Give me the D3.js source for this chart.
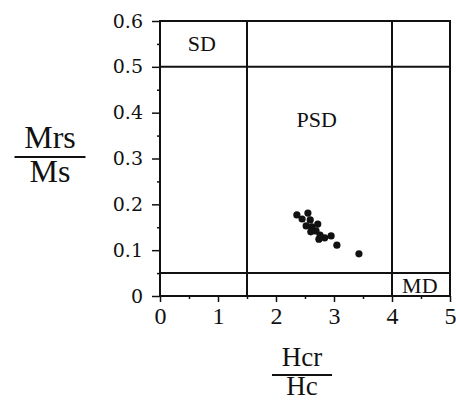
<!DOCTYPE html>
<html>
<head>
<meta charset="utf-8">
<script src="https://cdn.jsdelivr.net/npm/d3@7"></script>
<style>
  html, body { margin: 0; padding: 0; background: #fff; }
  svg { display: block; }
  text { fill: #111; }
</style>
</head>
<body>
<svg id="chart" width="456" height="404"></svg>
<script>
// Hysteresis ratios (Day plot): Hcr/Hc vs Mrs/Ms
const hcrHc = [2.36, 2.45, 2.55, 2.59, 2.52, 2.62, 2.72, 2.69, 2.76, 2.84, 2.95, 2.74, 3.05, 3.43, 2.60];
const mrsMs = [0.177, 0.168, 0.181, 0.166, 0.153, 0.151, 0.157, 0.142, 0.133, 0.127, 0.131, 0.124, 0.111, 0.092, 0.140];

const xTicks = [0, 1, 2, 3, 4, 5];
const yTicks = [0, 0.1, 0.2, 0.3, 0.4, 0.5, 0.6];
const yTickLabels = ["0", "0.1", "0.2", "0.3", "0.4", "0.5", "0.6"];

// Domain boundaries
const hcrBounds = [1.5, 4];
const mrsBounds = [0.05, 0.5];
const regions = [
  { name: "SD", x: 0.72, y: 0.552 },
  { name: "PSD", x: 2.7, y: 0.385 },
  { name: "MD", x: 4.48, y: 0.023 }
];

const SERIF = "'Liberation Serif', 'Times New Roman', serif";
const DIGITS = "'DejaVu Serif', serif";

const svg = d3.select("#chart");
const x = d3.scaleLinear().domain([0, 5]).range([160, 450]);
const y = d3.scaleLinear().domain([0, 0.6]).range([296, 21]);

// Axes with major and minor ticks
const xAxis = d3.axisBottom(x).tickValues(xTicks).tickFormat(d3.format("d")).tickSize(6).tickPadding(5);
const xMinor = d3.axisBottom(x).tickValues(d3.range(0.5, 5, 1)).tickFormat("").tickSize(3);
const yAxis = d3.axisLeft(y).tickValues(yTicks).tickFormat((d, i) => yTickLabels[i]).tickSize(8).tickPadding(9);
const yMinor = d3.axisLeft(y).tickValues(d3.range(0.05, 0.6, 0.1)).tickFormat("").tickSize(3);

function style(g, size, family) {
  g.attr("font-family", null).attr("font-size", null);
  g.select(".domain").remove();
  g.selectAll(".tick line").attr("stroke", "#111").attr("stroke-width", 1.5);
  g.selectAll(".tick text").attr("fill", "#111")
    .style("font-family", family).style("font-size", size + "px");
}

svg.append("g").attr("transform", "translate(0,296)").call(xAxis).call(g => style(g, 24, SERIF));
svg.append("g").attr("transform", "translate(0,296)").call(xMinor).call(g => style(g, 0, SERIF));
svg.append("g").attr("transform", "translate(160,0)").call(yAxis).call(g => style(g, 19, DIGITS));
svg.append("g").attr("transform", "translate(160,0)").call(yMinor).call(g => style(g, 0, DIGITS));

// Frame
svg.append("rect")
  .attr("x", x(0)).attr("y", y(0.6))
  .attr("width", x(5) - x(0)).attr("height", y(0) - y(0.6))
  .attr("fill", "none").attr("stroke", "#111").attr("stroke-width", 2);

// Boundary lines
svg.selectAll(".vb").data(hcrBounds).join("line")
  .attr("x1", d => x(d)).attr("x2", d => x(d))
  .attr("y1", y(0)).attr("y2", y(0.6))
  .attr("stroke", "#111").attr("stroke-width", 2);
svg.selectAll(".hb").data(mrsBounds).join("line")
  .attr("x1", x(0)).attr("x2", x(5))
  .attr("y1", d => y(d)).attr("y2", d => y(d))
  .attr("stroke", "#111").attr("stroke-width", 2);

// Region labels
svg.selectAll(".region").data(regions).join("text")
  .attr("x", d => x(d.x)).attr("y", d => y(d.y))
  .attr("text-anchor", "middle").attr("dominant-baseline", "central")
  .style("font-family", SERIF).style("font-size", "22px")
  .text(d => d.name);

// Samples
svg.selectAll(".pt").data(hcrHc.map((v, i) => [v, mrsMs[i]])).join("circle")
  .attr("cx", d => x(d[0])).attr("cy", d => y(d[1]))
  .attr("r", 3.6).attr("fill", "#111");

// Axis titles as fractions
function fraction(cx, base, num, den, size, lineY, lineW, gap) {
  const g = svg.append("g").style("font-family", SERIF).style("font-size", size + "px");
  g.append("text").attr("x", cx).attr("y", base).attr("text-anchor", "middle").text(num);
  g.append("line").attr("x1", cx - lineW / 2).attr("x2", cx + lineW / 2)
    .attr("y1", lineY).attr("y2", lineY).attr("stroke", "#111").attr("stroke-width", 2);
  g.append("text").attr("x", cx).attr("y", base + gap).attr("text-anchor", "middle").text(den);
}
fraction(50, 148, "Mrs", "Ms", 32, 157, 71, 34);
fraction(302, 366, "Hcr", "Hc", 27, 375, 60, 29);
</script>
</body>
</html>
